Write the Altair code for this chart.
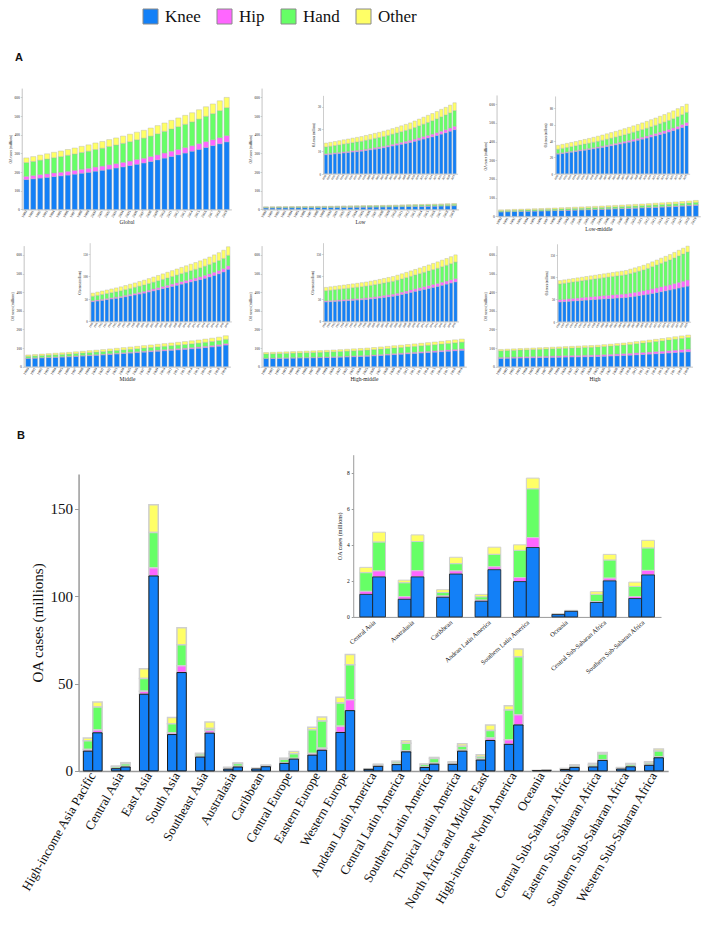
import altair as alt
import pandas as pd

# ---------------- data ----------------
YEARS = list(range(1990, 2020))
SITES = ["Knee", "Hip", "Hand", "Other"]
COLORS = ["#1380F7", "#FF66FF", "#66FF66", "#FFFF66"]
PANELS = ["Global", "Low", "Low-middle", "Middle", "High-middle", "High"]

GLOBAL_KNEE = [160, 164, 168, 172, 176, 180, 184, 189, 194, 199, 205, 210, 216, 222, 228, 235, 242, 249, 257, 266, 275, 284, 293, 302, 312, 322, 332, 342, 352, 362]
GLOBAL_HIP = [17, 17, 18, 18, 19, 19, 20, 20, 21, 21, 22, 22, 23, 23, 24, 24, 25, 25, 26, 26, 27, 28, 28, 29, 29, 30, 31, 31, 32, 33]
GLOBAL_HAND = [74, 76, 78, 80, 82, 84, 86, 88, 90, 92, 94, 96, 98, 100, 102, 104, 106, 108, 110, 113, 116, 119, 122, 125, 128, 132, 136, 140, 145, 150]
GLOBAL_OTHER = [25, 26, 27, 28, 29, 30, 31, 32, 33, 34, 35, 36, 37, 38, 39, 40, 41, 42, 43, 44, 45, 46, 47, 48, 49, 50, 51, 52, 53, 55]

LOW_KNEE = [8.5, 8.7, 8.9, 9.1, 9.3, 9.5, 9.7, 9.9, 10.1, 10.4, 10.7, 11.0, 11.3, 11.6, 12.0, 12.4, 12.8, 13.2, 13.6, 14.0, 14.5, 15.0, 15.5, 16.0, 16.5, 17.1, 17.7, 18.3, 19.0, 19.7]
LOW_HIP = [0.4, 0.4, 0.4, 0.4, 0.45, 0.45, 0.5, 0.5, 0.5, 0.55, 0.55, 0.6, 0.6, 0.65, 0.65, 0.7, 0.75, 0.8, 0.85, 0.9, 0.95, 1.0, 1.05, 1.1, 1.15, 1.2, 1.3, 1.35, 1.4, 1.5]
LOW_HAND = [3.1, 3.2, 3.3, 3.4, 3.5, 3.6, 3.7, 3.8, 3.9, 4.0, 4.1, 4.2, 4.3, 4.4, 4.5, 4.6, 4.7, 4.8, 4.9, 5.0, 5.2, 5.4, 5.6, 5.8, 6.0, 6.2, 6.4, 6.6, 6.8, 7.0]
LOW_OTHER = [1.7, 1.75, 1.8, 1.85, 1.9, 1.95, 2.0, 2.05, 2.1, 2.15, 2.2, 2.25, 2.3, 2.35, 2.4, 2.45, 2.5, 2.6, 2.7, 2.8, 2.9, 3.0, 3.1, 3.2, 3.25, 3.3, 3.35, 3.4, 3.45, 3.5]

LOWMID_KNEE = [24, 24.8, 25.6, 26.4, 27.2, 28, 28.8, 29.6, 30.5, 31.4, 32.3, 33.3, 34.3, 35.3, 36.4, 37.5, 38.6, 39.8, 41, 42.3, 43.6, 45, 46.4, 47.9, 49.4, 51, 52.7, 54.6, 56.6, 58.8]
LOWMID_HIP = [0.8, 0.85, 0.9, 0.95, 1.0, 1.05, 1.1, 1.15, 1.2, 1.3, 1.4, 1.5, 1.6, 1.7, 1.8, 1.9, 2.0, 2.1, 2.2, 2.3, 2.4, 2.5, 2.6, 2.8, 2.9, 3.0, 3.1, 3.3, 3.4, 3.6]
LOWMID_HAND = [5.2, 5.4, 5.6, 5.8, 6.0, 6.2, 6.4, 6.6, 6.8, 7.0, 7.2, 7.4, 7.6, 7.8, 8.0, 8.2, 8.5, 8.8, 9.0, 9.3, 9.6, 9.9, 10.2, 10.5, 10.8, 11.1, 11.4, 11.8, 12.2, 12.6]
LOWMID_OTHER = [4.8, 4.9, 5.0, 5.1, 5.2, 5.4, 5.6, 5.8, 6.0, 6.2, 6.4, 6.6, 6.8, 7.0, 7.2, 7.4, 7.6, 7.8, 8.0, 8.2, 8.4, 8.6, 8.8, 9.0, 9.2, 9.4, 9.6, 9.8, 9.9, 10.0]

MID_KNEE = [44, 45.5, 47, 48.5, 50, 51.5, 53, 55, 57, 59, 61, 63, 65.5, 68, 70.5, 73, 75.5, 78, 80.5, 83, 85.5, 88, 90.5, 93, 96, 99, 102.5, 106, 110, 116]
MID_HIP = [2, 2.1, 2.2, 2.3, 2.4, 2.5, 2.7, 2.9, 3.1, 3.3, 3.5, 3.7, 3.9, 4.1, 4.3, 4.5, 4.7, 4.9, 5.1, 5.3, 5.5, 5.7, 5.9, 6.1, 6.3, 6.5, 6.8, 7.0, 7.2, 7.5]
MID_HAND = [10, 10.4, 10.8, 11.2, 11.6, 12, 12.4, 12.8, 13.2, 13.6, 14, 14.4, 14.8, 15.2, 15.6, 16, 16.5, 17, 17.5, 18, 18.5, 19, 19.5, 20, 20.5, 21, 21.6, 22.2, 22.8, 23.5]
MID_OTHER = [7, 7.3, 7.6, 7.9, 8.2, 8.5, 8.8, 9.1, 9.4, 9.8, 10.2, 10.6, 11, 11.4, 11.8, 12.2, 12.6, 13, 13.4, 13.8, 14.2, 14.6, 15, 15.5, 16, 16.5, 17, 17.6, 18.3, 19]

HIGHMID_KNEE = [43.4, 44, 44.6, 45.2, 45.8, 46.4, 47, 47.6, 48.3, 49, 50, 51, 52.2, 53.5, 54.8, 56, 58, 60.2, 62.4, 64.7, 67, 69.2, 71.4, 73.6, 75.8, 78, 80.5, 83, 85.5, 88]
HIGHMID_HIP = [2.2, 2.3, 2.4, 2.5, 2.6, 2.7, 2.8, 2.9, 3.0, 3.2, 3.4, 3.6, 3.8, 4.0, 4.2, 4.4, 4.6, 4.8, 5.0, 5.2, 5.4, 5.6, 5.8, 6.0, 6.2, 6.4, 6.6, 6.7, 6.9, 7.0]
HIGHMID_HAND = [22.8, 23.2, 23.6, 24, 24.4, 24.8, 25.2, 25.6, 26, 26.4, 26.8, 27.2, 27.6, 28, 28.4, 28.8, 29.2, 29.6, 30, 30.5, 31, 31.5, 32, 32.6, 33.2, 33.8, 34.5, 35.2, 36, 37]
HIGHMID_OTHER = [7.3, 7.5, 7.7, 7.9, 8.1, 8.3, 8.5, 8.7, 8.9, 9.1, 9.3, 9.5, 9.8, 10.1, 10.4, 10.7, 11, 11.3, 11.6, 11.9, 12.2, 12.6, 13, 13.4, 13.8, 14.2, 14.6, 15, 15.5, 16]

HIGH_KNEE = [44.5, 45.2, 45.9, 46.6, 47.3, 48, 48.7, 49.4, 50.1, 50.8, 51.5, 52.1, 52.7, 53.3, 53.9, 54.5, 55.9, 57.3, 58.7, 60.2, 61.8, 63.7, 65.6, 67.5, 69.4, 71.3, 73.5, 75.7, 77.9, 80]
HIGH_HIP = [5, 5.2, 5.4, 5.6, 5.8, 6, 6.2, 6.4, 6.6, 6.8, 7, 7.2, 7.4, 7.6, 7.8, 8, 8.3, 8.6, 8.9, 9.2, 9.5, 9.9, 10.3, 10.7, 11.1, 11.5, 12, 12.5, 13, 13.6]
HIGH_HAND = [35.5, 36, 36.5, 37, 37.5, 38, 38.5, 39, 39.5, 40, 40.5, 41, 41.5, 42, 42.5, 43, 44, 45, 46, 47, 48.5, 50, 51.5, 53, 54.5, 56, 57.8, 59.6, 61.3, 63]
HIGH_OTHER = [7.5, 7.6, 7.7, 7.8, 7.9, 8, 8.1, 8.2, 8.3, 8.4, 8.6, 8.8, 9, 9.2, 9.4, 9.6, 9.8, 10, 10.2, 10.4, 10.6, 10.9, 11.2, 11.5, 11.8, 12.1, 12.4, 12.7, 12.9, 13.1]

REGIONS = ["High-income Asia Pacific", "Central Asia", "East Asia", "South Asia", "Southeast Asia",
           "Australasia", "Caribbean", "Central Europe", "Eastern Europe", "Western Europe",
           "Andean Latin America", "Central Latin America", "Southern Latin America",
           "Tropical Latin America", "North Africa and Middle East", "High-income North America",
           "Oceania", "Central Sub-Saharan Africa", "Eastern Sub-Saharan Africa",
           "Southern Sub-Saharan Africa", "Western Sub-Saharan Africa"]
INSET_REGIONS = ["Central Asia", "Australasia", "Caribbean", "Andean Latin America",
                 "Southern Latin America", "Oceania", "Central Sub-Saharan Africa",
                 "Southern Sub-Saharan Africa"]
B_YEARS = ["1990", "2019"]

KNEE_1990 = [11.3, 1.25, 43.9, 20.8, 7.9, 0.98, 1.09, 4.3, 9.0, 22.0, 0.87, 3.6, 1.96, 3.75, 6.2, 15.2, 0.13, 0.8, 2.25, 1.02, 3.2]
HIP_1990 = [0.9, 0.17, 1.7, 1.0, 0.5, 0.15, 0.07, 0.4, 0.9, 3.5, 0.06, 0.3, 0.22, 0.35, 0.55, 2.6, 0.015, 0.04, 0.2, 0.11, 0.4]
HAND_1990 = [5.1, 1.03, 7.3, 5.2, 1.2, 0.76, 0.19, 1.9, 13.7, 13.3, 0.18, 1.2, 1.51, 0.6, 1.35, 17.1, 0.015, 0.41, 1.1, 0.56, 1.1]
OTHER_1990 = [1.5, 0.3, 5.6, 3.6, 0.5, 0.15, 0.16, 0.7, 1.4, 3.4, 0.14, 0.5, 0.31, 0.55, 1.1, 2.4, 0.02, 0.15, 0.75, 0.24, 0.55]
KNEE_2019 = [21.8, 2.22, 111.6, 56.3, 21.6, 2.22, 2.38, 6.75, 11.8, 34.5, 2.62, 10.9, 3.85, 11.3, 17.4, 26.3, 0.31, 2.0, 6.0, 2.33, 7.5]
HIP_2019 = [1.6, 0.33, 4.7, 3.9, 1.5, 0.34, 0.17, 0.35, 1.1, 6.2, 0.16, 0.5, 0.55, 0.5, 1.4, 5.8, 0.02, 0.15, 0.4, 0.25, 0.4]
HAND_2019 = [13.2, 1.6, 20.2, 12.0, 1.1, 1.62, 0.4, 2.7, 15.6, 20.1, 0.69, 4.4, 2.7, 2.3, 4.3, 33.2, 0.015, 1.0, 3.2, 1.24, 3.5]
OTHER_2019 = [2.8, 0.55, 15.9, 9.8, 3.8, 0.37, 0.36, 1.3, 2.3, 5.8, 0.4, 1.5, 0.6, 1.5, 3.2, 4.5, 0.02, 0.32, 0.9, 0.43, 1.2]

# ---------------- tables ----------------
A_SERIES = {
    "Global": [GLOBAL_KNEE, GLOBAL_HIP, GLOBAL_HAND, GLOBAL_OTHER],
    "Low": [LOW_KNEE, LOW_HIP, LOW_HAND, LOW_OTHER],
    "Low-middle": [LOWMID_KNEE, LOWMID_HIP, LOWMID_HAND, LOWMID_OTHER],
    "Middle": [MID_KNEE, MID_HIP, MID_HAND, MID_OTHER],
    "High-middle": [HIGHMID_KNEE, HIGHMID_HIP, HIGHMID_HAND, HIGHMID_OTHER],
    "High": [HIGH_KNEE, HIGH_HIP, HIGH_HAND, HIGH_OTHER],
}
rows = []
for p in PANELS:
    for si, s in enumerate(SITES):
        for yi, yr in enumerate(YEARS):
            rows.append({"panel": p, "year": str(yr), "site": s, "ord": si,
                         "value": A_SERIES[p][si][yi]})
dfA = pd.DataFrame(rows)

B_SERIES = {"1990": [KNEE_1990, HIP_1990, HAND_1990, OTHER_1990],
            "2019": [KNEE_2019, HIP_2019, HAND_2019, OTHER_2019]}
rowsB = []
for si in [3, 2, 1, 0]:  # knee drawn last so its dark outline stays visible
    for yr in B_YEARS:
        for ri, reg in enumerate(REGIONS):
            rowsB.append({"region": reg, "year": yr, "site": SITES[si], "ord": si,
                          "value": B_SERIES[yr][si][ri]})
dfB = pd.DataFrame(rowsB)

# ---------------- layout helpers ----------------
W, H = 693, 906
SERIF = "Liberation Serif"


def X(r):
    return round(r * 0.975 + 3, 2)


def Y(r):
    return round((r - 3) * 0.9826, 2)


color_enc = alt.Color(
    "site:N",
    scale=alt.Scale(domain=SITES, range=COLORS),
    legend=alt.Legend(orient="none", legendX=134, legendY=0, direction="horizontal",
                      title=None, symbolType="square", symbolSize=225,
                      symbolStrokeColor="#8a8a8a", symbolStrokeWidth=1,
                      labelFont=SERIF, labelFontSize=17, labelColor="#111",
                      columnPadding=14, labelOffset=6, padding=0),
)
order_enc = alt.Order("ord:Q", sort="ascending")

AX_GREY = "#9a9a9a"


def a_layer(panel, x0, x1, y0, yref, vref, dmax, ticks, inset):
    ppv = (y0 - yref) / vref
    yr = [Y(y0), Y(y0 - ppv * dmax)]
    if inset:
        xaxis = alt.Axis(orient="bottom", offset=Y(y0) - H, labelAngle=-60, labelFont=SERIF,
                         labelFontSize=2.8, labelPadding=1, ticks=False, labelOverlap=False,
                         title=None, domainColor=AX_GREY, domainWidth=0.5, labelColor="#222")
        yaxis = alt.Axis(orient="left", offset=-X(x0), values=ticks, labelFont=SERIF,
                         labelFontSize=3, labelPadding=1, tickSize=1.5, tickWidth=0.4,
                         tickColor=AX_GREY, domainColor=AX_GREY, domainWidth=0.5,
                         title="OA cases (millions)", titleFont=SERIF, titleFontSize=3,
                         titleFontWeight="normal", titlePadding=2, labelColor="#222",
                         titleColor="#222")
    else:
        xaxis = alt.Axis(orient="bottom", offset=Y(y0) - H, labelAngle=-60, labelFont=SERIF,
                         labelFontSize=3.8, labelPadding=1, ticks=False, labelOverlap=False,
                         title=panel, titleFont=SERIF, titleFontSize=5.5,
                         titleFontWeight="normal", titlePadding=1.5, domainColor=AX_GREY,
                         domainWidth=0.6, labelColor="#222", titleColor="#222")
        yaxis = alt.Axis(orient="left", offset=-X(x0), values=ticks, labelFont=SERIF,
                         labelFontSize=3.6, labelPadding=0.8, tickSize=1.5, tickWidth=0.4,
                         tickColor=AX_GREY, domainColor=AX_GREY, domainWidth=0.6,
                         title="OA cases (millions)", titleFont=SERIF, titleFontSize=3.6,
                         titleFontWeight="normal", titlePadding=1.5, labelColor="#222",
                         titleColor="#222")
    return (
        alt.Chart(dfA)
        .transform_filter(alt.datum.panel == panel)
        .mark_bar(stroke="#b0b0b0", strokeWidth=0.4)
        .encode(
            x=alt.X("year:O", scale=alt.Scale(range=[X(x0), X(x1)], paddingInner=0.25,
                                              paddingOuter=0.3), axis=xaxis),
            y=alt.Y("value:Q", stack="zero",
                    scale=alt.Scale(domain=[0, dmax], range=yr, nice=False, zero=True),
                    axis=yaxis),
            color=color_enc,
            order=order_enc,
        )
    )


MAIN_TICKS = [0, 100, 200, 300, 400, 500, 600]
INS_TICKS = [0, 50, 100, 150]
layers = [
    a_layer("Global", 11, 226, 208, 94, 600, 650, MAIN_TICKS, False),
    a_layer("Low", 257, 459, 208, 94, 600, 650, MAIN_TICKS, False),
    a_layer("Low-middle", 498, 707, 215, 101, 600, 650, MAIN_TICKS, False),
    a_layer("Middle", 13, 225, 368, 254.3, 600, 650, MAIN_TICKS, False),
    a_layer("High-middle", 257, 467, 368, 254.3, 600, 650, MAIN_TICKS, False),
    a_layer("High", 498, 699, 368, 254.3, 600, 650, MAIN_TICKS, False),
    a_layer("Low", 320, 458, 171.7, 103.3, 30, 35, [0, 10, 20, 30], True),
    a_layer("Low-middle", 558, 696, 171.7, 105, 80, 95, [0, 20, 40, 60, 80], True),
    a_layer("Middle", 80.7, 226, 322, 253.3, 150, 175, INS_TICKS, True),
    a_layer("High-middle", 320, 459, 322, 253.3, 150, 175, INS_TICKS, True),
    a_layer("High", 560, 697, 322.3, 254.3, 150, 175, INS_TICKS, True),
]

stroke_enc = alt.condition("datum.site == 'Knee'", alt.value("#1b1b1b"), alt.value("#cfcfcf"))
strokew_enc = alt.condition("datum.site == 'Knee'", alt.value(1), alt.value(1.5))

b_main = alt.Chart(dfB).mark_bar().encode(
    x=alt.X("region:N", sort=REGIONS,
            scale=alt.Scale(range=[X(69.3), X(674)], paddingInner=0.33, paddingOuter=0.17),
            axis=alt.Axis(orient="bottom", offset=Y(779.4) - H, labelAngle=-60, labelFont=SERIF,
                          labelFontSize=13, labelLimit=300, ticks=False, title=None,
                          domainColor=AX_GREY, domainWidth=1.5, labelPadding=2,
                          labelColor="#111", labelOverlap=False)),
    xOffset=alt.XOffset("year:N", sort=B_YEARS, scale=alt.Scale(paddingInner=0, paddingOuter=0)),
    y=alt.Y("value:Q", stack="zero",
            scale=alt.Scale(domain=[0, 170], range=[Y(779.4), Y(477.2)], nice=False),
            axis=alt.Axis(orient="left", offset=-X(69.3), values=[0, 50, 100, 150],
                          labelFont=SERIF, labelFontSize=15, labelColor="#111",
                          tickColor=AX_GREY, tickSize=4, domainColor=AX_GREY, domainWidth=1.5,
                          title="OA cases (millions)", titleFont=SERIF, titleFontSize=15,
                          titleFontWeight="normal", titleColor="#111", titlePadding=5)),
    color=color_enc,
    order=order_enc,
    stroke=stroke_enc,
    strokeWidth=strokew_enc,
)

b_inset = alt.Chart(dfB).transform_filter(
    alt.FieldOneOfPredicate(field="region", oneOf=INSET_REGIONS)
).mark_bar().encode(
    x=alt.X("region:N", sort=INSET_REGIONS,
            scale=alt.Scale(range=[X(351), X(666.7)], paddingInner=0.33, paddingOuter=0.17),
            axis=alt.Axis(orient="bottom", offset=Y(622.7) - H, labelAngle=-42, labelFont=SERIF,
                          labelFontSize=6.5, labelLimit=200, ticks=False, title=None,
                          domainColor=AX_GREY, domainWidth=1, labelPadding=2,
                          labelColor="#111", labelOverlap=False)),
    xOffset=alt.XOffset("year:N", sort=B_YEARS, scale=alt.Scale(paddingInner=0, paddingOuter=0)),
    y=alt.Y("value:Q", stack="zero",
            scale=alt.Scale(domain=[0, 9], range=[Y(622.7), Y(457.6)], nice=False),
            axis=alt.Axis(orient="left", offset=-X(351), values=[0, 2, 4, 6, 8],
                          labelFont=SERIF, labelFontSize=5.5, labelColor="#111",
                          tickColor=AX_GREY, tickSize=2, domainColor=AX_GREY, domainWidth=1,
                          title="OA cases (millions)", titleFont=SERIF, titleFontSize=6,
                          titleFontWeight="normal", titleColor="#111", titlePadding=4)),
    color=color_enc,
    order=order_enc,
    stroke=stroke_enc,
    strokeWidth=alt.condition("datum.site == 'Knee'", alt.value(0.8), alt.value(1)),
)

lab_a = alt.Chart(pd.DataFrame({"t": ["A"]})).mark_text(
    font="Liberation Sans", fontWeight="bold", fontSize=11, align="left", baseline="alphabetic",
    color="#111").encode(text="t:N", x=alt.value(7), y=alt.value(Y(57)))
lab_b = alt.Chart(pd.DataFrame({"t": ["B"]})).mark_text(
    font="Liberation Sans", fontWeight="bold", fontSize=11, align="left", baseline="alphabetic",
    color="#111").encode(text="t:N", x=alt.value(9), y=alt.value(Y(442)))

chart = (
    alt.layer(*layers, b_main, b_inset, lab_a, lab_b)
    .resolve_scale(x="independent", y="independent", xOffset="independent")
    .properties(width=W, height=H, padding=0, autosize=alt.AutoSizeParams(type="none"))
    .configure_view(stroke=None)
    .configure_axis(grid=False)
)

chart.save("out.html", embed_options={"renderer": "svg", "actions": False})
